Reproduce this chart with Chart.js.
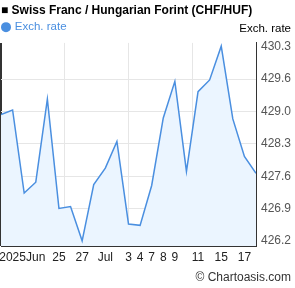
<!DOCTYPE html>
<html>
<head>
<meta charset="utf-8">
<script src="https://cdn.jsdelivr.net/npm/chart.js@4.4.1/dist/chart.umd.min.js"></script>
<style>
  html, body { margin: 0; padding: 0; background: #fff; }
  #chart { display: block; }
</style>
</head>
<body>
<canvas id="chart" width="295" height="288"></canvas>
<script>
// CHF/HUF daily rates, Jun 18 - Jul 18 2025 (business days)
const dayLabels = ['', '2025', '', 'Jun', '', '25', '', '27', '', 'Jul', '', '3', '4', '7', '8', '9', '', '11', '', '15', '', '17', ''];
const rates = [428.89, 428.99, 427.22, 427.45, 429.22, 426.89, 426.93, 426.20, 427.40, 427.75,
  428.32, 426.56, 426.53, 427.38, 428.82, 429.60, 427.68, 429.38, 429.63, 430.35,
  428.80, 428.00, 427.64];
const yTicks = [426.197, 426.887, 427.577, 428.267, 428.957, 429.647, 430.337];
const gridSteps = [0, 5.5, 11, 16.5, 22];

const blue = '#4a8fe0';
const font = '"Liberation Sans", Arial, sans-serif';

// x ticks: every labelled day plus the evenly spaced grid positions
const xTicks = [...new Set([
  ...dayLabels.map((l, i) => l ? i : null).filter(v => v !== null),
  ...gridSteps
])].sort((a, b) => a - b);

// axis title on the right and the site credit
const extraText = {
  id: 'extraText',
  afterDraw(chart) {
    const ctx = chart.ctx;
    ctx.save();
    ctx.fillStyle = '#000';
    ctx.font = '11.5px ' + font;
    ctx.textAlign = 'right';
    ctx.textBaseline = 'alphabetic';
    ctx.fillText('Exch. rate', 291, 32);
    ctx.fillStyle = '#333';
    ctx.font = '12px ' + font;
    ctx.fillText('\u00a9 Chartoasis.com', 291, 281);
    ctx.restore();
  }
};

new Chart(document.getElementById('chart'), {
  type: 'line',
  data: {
    datasets: [{
      label: 'Exch. rate',
      data: rates.map((r, i) => ({ x: i, y: r })),
      borderColor: blue,
      backgroundColor: '#ebf5ff',
      pointBackgroundColor: blue,
      pointBorderColor: blue,
      borderWidth: 1.5,
      fill: 'start',
      tension: 0,
      pointRadius: 0
    }]
  },
  options: {
    responsive: false,
    animation: false,
    devicePixelRatio: 1,
    layout: { padding: { left: 1, top: 0, right: 0, bottom: 0 } },
    plugins: {
      title: {
        display: true,
        text: '\u25A0 Swiss Franc / Hungarian Forint (CHF/HUF)',
        align: 'start',
        color: '#000',
        font: { family: font, size: 12, weight: 'bold' },
        padding: { top: 3, bottom: 2 }
      },
      legend: {
        display: true,
        align: 'start',
        labels: {
          usePointStyle: true,
          pointStyle: 'circle',
          boxWidth: 6,
          boxHeight: 6,
          padding: 2,
          color: blue,
          font: { family: font, size: 11.5 }
        }
      },
      tooltip: { enabled: false }
    },
    scales: {
      x: {
        type: 'linear',
        min: 0,
        max: 22,
        offset: false,
        afterBuildTicks(s) { s.ticks = xTicks.map(v => ({ value: v })); },
        grid: {
          drawTicks: false,
          lineWidth: ctx => (ctx.tick && ctx.tick.value === 0) ? 2 : 1,
          color: ctx => {
            const v = ctx.tick ? ctx.tick.value : null;
            if (v === 0) return '#333';
            return gridSteps.includes(v) ? '#e6e6e6' : 'rgba(0,0,0,0)';
          }
        },
        border: { display: true, color: '#333', width: 1 },
        ticks: {
          autoSkip: false,
          maxRotation: 0,
          padding: 0,
          color: '#222',
          font: { family: font, size: 12, lineHeight: 2 },
          callback: v => Number.isInteger(v) ? dayLabels[v] : ''
        },
        afterFit(s) { s.height = 42; }
      },
      y: {
        position: 'right',
        min: 426.09,
        max: 430.42,
        afterBuildTicks(s) { s.ticks = yTicks.map(v => ({ value: v })); },
        grid: {
          drawTicks: false,
          color: ctx => (ctx.index === 0 || ctx.index === yTicks.length - 1) ? 'rgba(0,0,0,0)' : '#e6e6e6'
        },
        border: { display: true, color: '#333', width: 1 },
        ticks: {
          padding: 5,
          color: '#555',
          font: { family: font, size: 12 },
          callback: v => v.toFixed(1)
        },
        afterFit(s) { s.width = 39; }
      }
    }
  },
  plugins: [extraText]
});
</script>
</body>
</html>
